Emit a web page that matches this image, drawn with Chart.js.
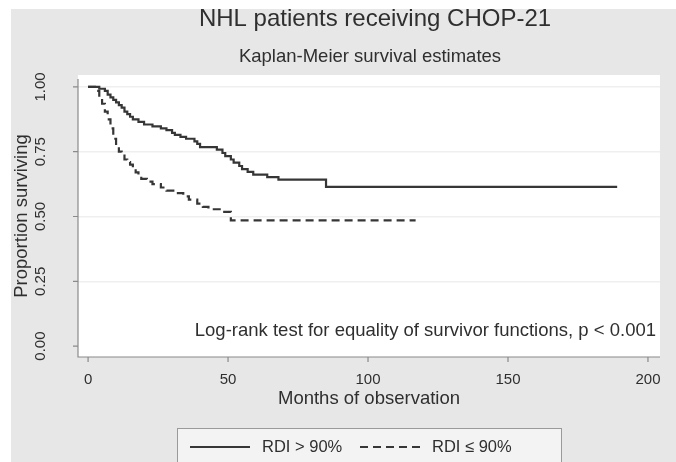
<!DOCTYPE html>
<html>
<head>
<meta charset="utf-8">
<script src="https://cdn.jsdelivr.net/npm/chart.js@4.4.1/dist/chart.umd.min.js"></script>
<style>
  html, body { margin: 0; padding: 0; background: #fff; }
  #wrap { width: 676px; height: 462px; }
</style>
</head>
<body>
<div id="wrap"><canvas id="km" width="676" height="462"></canvas></div>
<script>
// Kaplan-Meier steps, RDI > 90%
const monthsHigh = [0, 4, 6, 7, 8, 9, 10, 11, 12, 13, 14, 15, 16, 18, 20, 23, 26, 28, 30, 31, 33, 35, 38, 39, 40, 46, 48, 49, 51, 52, 54, 55, 57, 59, 64, 68, 85, 189];
const survHigh = [1.0, 0.993, 0.985, 0.97, 0.96, 0.95, 0.94, 0.93, 0.92, 0.905, 0.895, 0.885, 0.875, 0.865, 0.855, 0.848, 0.84, 0.833, 0.823, 0.815, 0.807, 0.8, 0.79, 0.78, 0.768, 0.758, 0.745, 0.733, 0.72, 0.708, 0.695, 0.683, 0.672, 0.662, 0.652, 0.642, 0.614, 0.614];

// Kaplan-Meier steps, RDI <= 90%
const monthsLow = [0, 3, 4, 5, 6, 7, 8, 9, 10, 11, 12, 13, 14, 15, 16, 17, 18, 19, 21, 23, 26, 28, 31, 34, 36, 39, 41, 43, 47, 51, 117];
const survLow = [1.0, 0.985, 0.96, 0.935, 0.905, 0.875, 0.84, 0.8, 0.77, 0.75, 0.735, 0.72, 0.71, 0.7, 0.685, 0.67, 0.66, 0.645, 0.635, 0.625, 0.612, 0.6, 0.59, 0.578, 0.565, 0.55, 0.537, 0.528, 0.518, 0.485, 0.485];

const xTicks = [0, 50, 100, 150, 200];
const yTicks = [0, 0.25, 0.5, 0.75, 1];
const seriesLabels = ["RDI > 90%", "RDI \u2264 90%"];
const titleText = "NHL patients receiving CHOP-21";
const subtitleText = "Kaplan-Meier survival estimates";
const noteText = "Log-rank test for equality of survivor functions, p < 0.001";
const xTitle = "Months of observation";
const yTitle = "Proportion surviving";

const FONT = "'Liberation Sans', Arial, sans-serif";
const INK = "#2f2f2f";
const LINE = "#363636";
const DASH = [8, 5];

const toPoints = (xs, ys) => xs.map((x, i) => ({ x: x, y: ys[i] }));

// background, axes, titles, note and legend around the plot region
const stataFrame = {
  id: "stataFrame",
  beforeDraw(chart) {
    const { ctx, chartArea: a } = chart;
    ctx.save();
    ctx.fillStyle = "#ffffff";
    ctx.fillRect(0, 0, chart.width, chart.height);
    ctx.fillStyle = "#e7e7e7";
    ctx.fillRect(11, 9, chart.width - 11, chart.height - 9);
    ctx.fillStyle = "#ffffff";
    ctx.fillRect(a.left, a.top, a.right - a.left, a.bottom - a.top);
    ctx.restore();
  },
  afterDraw(chart) {
    const { ctx, chartArea: a } = chart;
    const xs = chart.scales.x;
    const ys = chart.scales.y;
    ctx.save();

    // axis lines and tick marks
    ctx.strokeStyle = "#8a8a8a";
    ctx.lineWidth = 1.2;
    ctx.beginPath();
    ctx.moveTo(a.left, a.top + 4);
    ctx.lineTo(a.left, a.bottom);
    ctx.lineTo(a.right, a.bottom);
    yTicks.forEach(v => {
      const py = ys.getPixelForValue(v);
      ctx.moveTo(a.left, py);
      ctx.lineTo(a.left - 5, py);
    });
    xTicks.forEach(v => {
      const px = xs.getPixelForValue(v);
      ctx.moveTo(px, a.bottom);
      ctx.lineTo(px, a.bottom + 5);
    });
    ctx.stroke();

    ctx.fillStyle = INK;

    // y tick labels, rotated
    ctx.font = "15px " + FONT;
    ctx.textAlign = "center";
    ctx.textBaseline = "middle";
    yTicks.forEach(v => {
      ctx.save();
      ctx.translate(41, ys.getPixelForValue(v));
      ctx.rotate(-Math.PI / 2);
      ctx.fillText(v.toFixed(2), 0, 0);
      ctx.restore();
    });

    // x tick labels
    xTicks.forEach(v => {
      ctx.fillText(String(v), xs.getPixelForValue(v), a.bottom + 23);
    });

    // axis titles
    ctx.font = "18.5px " + FONT;
    ctx.fillText(xTitle, (a.left + a.right) / 2, a.bottom + 42);
    ctx.save();
    ctx.translate(22, (a.top + a.bottom) / 2);
    ctx.rotate(-Math.PI / 2);
    ctx.fillText(yTitle, 0, 0);
    ctx.restore();

    // titles
    ctx.font = "24px " + FONT;
    ctx.fillText(titleText, 375, 19);
    ctx.font = "18.5px " + FONT;
    ctx.fillText(subtitleText, 370, 57);

    // log-rank note
    ctx.textAlign = "right";
    ctx.fillText(noteText, a.right - 4, 331);

    // legend
    const lx = 177, ly = 428, lw = 384, lh = 40;
    ctx.fillStyle = "#f3f3f3";
    ctx.fillRect(lx, ly, lw, lh);
    ctx.strokeStyle = "#9a9a9a";
    ctx.lineWidth = 1;
    ctx.strokeRect(lx + 0.5, ly + 0.5, lw, lh);
    const rowY = ly + 19;
    ctx.strokeStyle = LINE;
    ctx.lineWidth = 2;
    chart.data.datasets.forEach((ds, i) => {
      const x0 = i === 0 ? 190 : 360;
      ctx.setLineDash(ds.borderDash || []);
      ctx.beginPath();
      ctx.moveTo(x0, rowY);
      ctx.lineTo(x0 + 60, rowY);
      ctx.stroke();
      ctx.setLineDash([]);
      ctx.fillStyle = INK;
      ctx.font = "16.5px " + FONT;
      ctx.textAlign = "left";
      ctx.fillText(ds.label, x0 + 72, rowY);
    });

    ctx.restore();
  }
};

new Chart(document.getElementById("km"), {
  type: "line",
  data: {
    datasets: [
      {
        label: seriesLabels[0],
        data: toPoints(monthsHigh, survHigh),
        stepped: "before",
        borderColor: LINE,
        borderWidth: 2.2,
        pointRadius: 0
      },
      {
        label: seriesLabels[1],
        data: toPoints(monthsLow, survLow),
        stepped: "before",
        borderColor: LINE,
        borderWidth: 2.2,
        borderDash: DASH,
        pointRadius: 0
      }
    ]
  },
  options: {
    responsive: false,
    animation: false,
    devicePixelRatio: 1,
    layout: { padding: { left: 78, right: 16, top: 75, bottom: 105 } },
    plugins: { legend: { display: false }, title: { display: false }, tooltip: { enabled: false } },
    scales: {
      x: { type: "linear", min: -3.6, max: 204.3, display: false },
      y: {
        type: "linear",
        min: -0.042,
        max: 1.046,
        afterBuildTicks: scale => { scale.ticks = yTicks.map(v => ({ value: v })); },
        ticks: { display: false },
        border: { display: false },
        grid: {
          drawTicks: false,
          lineWidth: 1.5,
          color: c => (c.tick && c.tick.value === 0 ? "rgba(0,0,0,0)" : "#efefef")
        }
      }
    }
  },
  plugins: [stataFrame]
});
</script>
</body>
</html>
